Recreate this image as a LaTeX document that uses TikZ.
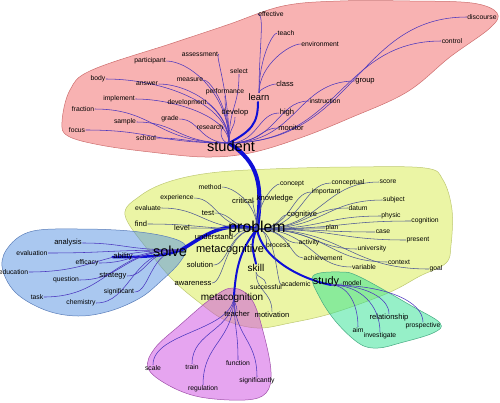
\documentclass[tikz,border=0pt]{standalone}
\usepackage{fontspec}
\setmainfont{Liberation Sans}
\usetikzlibrary{calc}
\pgfdeclarelayer{blobs}
\pgfdeclarelayer{edges}
\pgfsetlayers{blobs,edges,main}

\definecolor{pinkblob}{RGB}{241,101,101}
\definecolor{pinkline}{RGB}{205,110,110}
\definecolor{yellowblob}{RGB}{215,235,75}
\definecolor{yellowline}{RGB}{190,200,115}
\definecolor{blueblob}{RGB}{85,145,225}
\definecolor{blueline}{RGB}{90,125,185}
\definecolor{magblob}{RGB}{205,75,225}
\definecolor{magline}{RGB}{160,80,170}
\definecolor{mintblob}{RGB}{45,225,145}
\definecolor{mintline}{RGB}{70,170,130}
\definecolor{twigblue}{RGB}{75,55,190}
\definecolor{twiggray}{RGB}{80,90,150}
\definecolor{trunkblue}{RGB}{15,15,215}

\begin{document}
\begin{tikzpicture}[x=1pt, y=-1pt,
  word/.style={font=\fontsize{6.8}{8}\selectfont, inner sep=0.4pt},
  wordm/.style={font=\fontsize{7.6}{9}\selectfont, inner sep=0.4pt},
  big/.style={font=\fontsize{#1}{#1}\selectfont, inner sep=0.4pt},
  blob/.style={draw=#1line, fill=#1blob, fill opacity=0.5, line width=0.5pt},
  twig/.style={draw=twigblue, line width=0.55pt},
  graytwig/.style={draw=twiggray, line width=0.55pt},
  trunk/.style={draw=trunkblue, line cap=round, line width=#1},
  elbowcurve/.style={to path={.. controls ($(\tikztostart)!.6!(\tikztostart |- \tikztotarget)$)
      and ($(\tikztotarget)!.5!(\tikztostart |- \tikztotarget)$) .. (\tikztotarget)}},
  swaycurve/.style={to path={.. controls ($(\tikztostart)!.5!(\tikztotarget |- \tikztostart)$)
      and ($(\tikztotarget)!.5!(\tikztostart |- \tikztotarget)$) .. (\tikztotarget)}},
  dropcurve/.style={to path={.. controls ($(\tikztostart)!.5!(\tikztostart |- \tikztotarget)$)
      and ($(\tikztotarget)!.5!(\tikztotarget |- \tikztostart)$) .. (\tikztotarget)}},
  hookcurve/.style={to path={.. controls ($(\tikztostart)!.6!(\tikztotarget |- \tikztostart)$)
      and ($(\tikztotarget)!.6!(\tikztotarget |- \tikztostart)$) .. (\tikztotarget)}}
]
\useasboundingbox (0,0) rectangle (500,402);

% clusters
\begin{pgfonlayer}{blobs}
\draw[blob=yellow] plot[smooth cycle, tension=0.6] coordinates {(125,215) (140,196) (168,182) (210,173)
  (270,169) (350,167) (425,168) (443,180) (452,210) (451,245) (446,263) (420,276) (388,293) (333,313)
  (290,323) (257,328) (225,320) (200,303) (173,280) (148,250)};
\draw[blob=pink] plot[smooth cycle, tension=0.6] coordinates {(62,122) (70,90) (92,70) (173,43) (227,25)
  (283,6) (340,1) (410,1) (472,3) (497,13) (490,28) (450,57) (407,92) (350,118) (300,138) (250,153)
  (205,157) (150,152) (100,145) (68,136)};
\draw[blob=blue] plot[smooth cycle, tension=0.6] coordinates {(2,266) (10,245) (33,231) (80,229) (130,231)
  (168,237) (186,246) (180,262) (160,282) (140,298) (110,311) (78,316) (45,310) (15,292)};
\draw[blob=mag] plot[smooth cycle, tension=0.6] coordinates {(233,288) (252,300) (264,335) (271,372)
  (266,393) (245,400) (200,397) (168,385) (148,368) (155,348) (180,325) (212,298)};
\draw[blob=mint] plot[smooth cycle, tension=0.6] coordinates {(313,276) (340,272) (360,277) (410,305)
  (440,323) (433,333) (400,343) (378,348) (360,344) (337,323) (320,298)};
\end{pgfonlayer}

% student cluster
\node[big=14.6] (student) at (231,146) {student};
\node[big=9.4] (learn) at (259,97) {learn};
\node[word] (effective) at (271,14) {effective};
\node[word] (teach) at (286,33) {teach};
\node[word] (environment) at (320,44) {environment};
\node[wordm] (class) at (285,84) {class};
\node[wordm] (high) at (287,113) {high};
\node[wordm] (monitor) at (291,128) {monitor};
\node[word] (instruction) at (325,101) {instruction};
\node[wordm] (group) at (365,81) {group};
\node[word] (discourse) at (482,17) {discourse};
\node[word] (control) at (452,41) {control};
\node[word] (assessment) at (200,54) {assessment};
\node[word] (participant) at (150,61) {participant};
\node[word] (select) at (239,71) {select};
\node[word] (body) at (98,79) {body};
\node[word] (answer) at (147,84) {answer};
\node[word] (measure) at (190,80) {measure};
\node[word] (performance) at (225,92) {performance};
\node[word] (implement) at (119,99) {implement};
\node[word] (development) at (187,103) {development};
\node[wordm] (develop) at (235,113) {develop};
\node[word] (fraction) at (83,109) {fraction};
\node[word] (sample) at (125,122) {sample};
\node[word] (grade) at (170,119) {grade};
\node[word] (research) at (210,127) {research};
\node[word] (focus) at (77,130) {focus};
\node[word] (school) at (146,138) {school};

% problem cluster
\node[big=15.8] (problem) at (257,228) {problem};
\node[word] (method) at (210,187) {method};
\node[word] (experience) at (177,198) {experience};
\node[wordm] (critical) at (243,201) {critical};
\node[wordm] (knowledge) at (275,199) {knowledge};
\node[word] (evaluate) at (148,208) {evaluate};
\node[wordm] (test) at (208,213) {test};
\node[wordm] (find) at (141,224) {find};
\node[wordm] (level) at (182,228) {level};
\node[wordm] (understand) at (214,237) {understand};
\node[word] (concept) at (292,184) {concept};
\node[word] (conceptual) at (348,183) {conceptual};
\node[word] (score) at (388,182) {score};
\node[word] (important) at (326,192) {important};
\node[word] (datum) at (358,208) {datum};
\node[word] (subject) at (394,200) {subject};
\node[wordm] (cognitive) at (302,215) {cognitive};
\node[word] (physic) at (391,216) {physic};
\node[word] (cognition) at (425,221) {cognition};
\node[word] (plan) at (332,228) {plan};
\node[word] (case) at (383,232) {case};
\node[word] (present) at (418,240) {present};
\node[word] (activity) at (309,243) {activity};
\node[word] (process) at (278,246) {process};
\node[word] (university) at (372,249) {university};
\node[word] (achievement) at (323,258) {achievement};
\node[word] (context) at (399,262) {context};
\node[word] (variable) at (364,267) {variable};
\node[word] (goal) at (436,269) {goal};
\node[big=11] (metacognitive) at (230,250) {metacognitive};
\node[wordm] (solution) at (200,265) {solution};
\node[big=10] (skill) at (256,268) {skill};
\node[wordm] (awareness) at (193,283) {awareness};
\node[word] (successful) at (266,287) {successful};
\node[word] (academic) at (296,284) {academic};
\node[wordm] (motivation) at (272,315) {motivation};

% solve cluster
\node[big=14.5] (solve) at (170,251) {solve};
\node[wordm] (analysis) at (68,243) {analysis};
\node[word] (evaluation) at (32,253) {evaluation};
\node[wordm] (ability) at (123,257) {ability};
\node[word] (efficacy) at (87,263) {efficacy};
\node[word] (education) at (13.5,272) {education};
\node[word] (question) at (66,280) {question};
\node[wordm] (strategy) at (113,276) {strategy};
\node[word] (significant) at (119,292) {significant};
\node[word] (task) at (37,297) {task};
\node[word] (chemistry) at (81,303) {chemistry};

% metacognition cluster
\node[big=10] (metacognition) at (232,298) {metacognition};
\node[wordm] (teacher) at (237,314) {teacher};
\node[word] (scale) at (153,368) {scale};
\node[word] (train) at (192,367) {train};
\node[word] (function) at (238,363) {function};
\node[word] (regulation) at (203,389) {regulation};
\node[word] (significantly) at (257,381) {significantly};

% study cluster
\node[big=10.9] (study) at (326,282) {study};
\node[word] (model) at (352,283) {model};
\node[wordm] (relationship) at (389,318) {relationship};
\node[word] (prospective) at (423,326) {prospective};
\node[word] (aim) at (358,330) {aim};
\node[word] (investigate) at (380,336) {investigate};

% hubs where the twigs meet
\coordinate (hubS) at (229,143);
\coordinate (hubL) at (258,102);
\coordinate (hubP) at (257,229);
\coordinate (hubV) at (181,250);
\coordinate (hubM) at (234,295);
\coordinate (hubY) at (331,285);

\begin{pgfonlayer}{edges}
\draw[trunk=4pt] (hubS) .. controls +(30,20) and +(6,-45) .. (hubP);
\draw[trunk=3.5pt] (hubP) .. controls +(-35,-8) and +(25,-15) .. (hubV);
\draw[trunk=2.5pt] (hubV) .. controls +(-20,8) and +(20,0) .. (ability.west);
\draw[trunk=2pt] (hubS) .. controls +(22,-12) and +(0,22) .. (hubL);
\draw[trunk=2pt] (hubP) .. controls +(-18,22) and +(2,-25) .. (hubM);
\draw[trunk=2pt] (hubP) .. controls +(-8,15) and +(-2,-10) .. (skill.north);
\draw[trunk=2pt] (hubP) .. controls +(5,30) and +(-30,-6) .. (hubY);

\foreach \w in {effective,teach,environment,class}
  \draw[twig] (learn) to[elbowcurve] (\w);
\foreach \w in {body,participant,assessment,answer,measure,development,implement}
  \draw[twig] (hubS) to[elbowcurve] (\w);
\foreach \w in {select,performance,develop}
  \draw[twig] (hubS) to[dropcurve] (\w);
\foreach \w in {fraction,sample,grade,research,focus,school,high,monitor,instruction,group,control,discourse}
  \draw[twig] (hubS) to[swaycurve] (\w);

\foreach \w in {method,critical,knowledge,concept}
  \draw[graytwig] (hubP) to[elbowcurve] (\w);
\foreach \w in {experience,evaluate,find,level,test,understand,conceptual,score,important,datum,subject,
    cognitive,physic,cognition,plan,case,present,activity,process,university,achievement,context,
    variable,goal,solution,awareness,academic}
  \draw[graytwig] (hubP) to[swaycurve] (\w);
\foreach \w in {successful,motivation}
  \draw[graytwig] (skill) to[dropcurve] (\w);

\foreach \w in {analysis,evaluation,efficacy,education,question,strategy,significant,task,chemistry}
  \draw[twig] (hubV) to[swaycurve] (\w);

\foreach \w in {teacher,scale,train,function,regulation,significantly}
  \draw[twig] (hubM) to[dropcurve] (\w);

\draw[twig] (hubY) -- (model);
\foreach \w in {relationship,prospective,aim,investigate}
  \draw[twig] (hubY) to[hookcurve] (\w);
\end{pgfonlayer}
\end{tikzpicture}
\end{document}
